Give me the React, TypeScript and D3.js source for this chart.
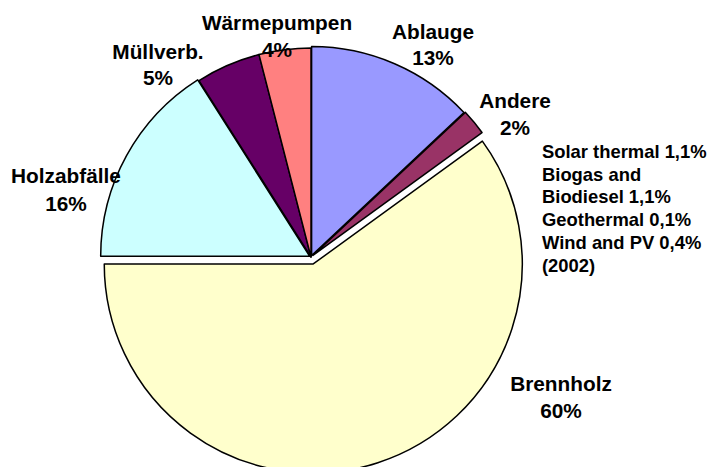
import { useEffect, useRef } from 'react';
import * as d3 from 'd3';

// Anteile erneuerbarer Wärme (%)
const categories = ['Ablauge', 'Andere', 'Brennholz', 'Holzabfälle', 'Müllverb.', 'Wärmepumpen'];
const shares = [13, 2, 60, 16, 5, 4];
const valueLabels = ['13%', '2%', '60%', '16%', '5%', '4%'];
const noteLines = [
  'Solar thermal 1,1%',
  'Biogas and',
  'Biodiesel 1,1%',
  'Geothermal 0,1%',
  'Wind and PV 0,4%',
  '(2002)'
];

const colors = ['#9999ff', '#993366', '#ffffcc', '#ccffff', '#660066', '#ff8080'];
// how far each slice is pulled out of the pie
const explode = [1.5, 2.5, 7.3, 1.5, 0, 0];
// label anchors (centre x, baseline of first line, line gap)
const labelPos = [
  [433, 39, 26],
  [515, 108, 27],
  [561, 391, 27],
  [66, 183, 28],
  [158, 59, 26],
  [277, 30, 27]
];

const App = () => {
  const svgRef = useRef(null);

  useEffect(() => {
    const svg = d3.select(svgRef.current);
    svg.selectAll('*').remove();

    const width = 708;
    const height = 467;
    const cx = 311;
    const cy = 257;
    const radius = 209;

    svg.attr('width', width).attr('height', height);

    const pie = d3.pie().sort(null).value(d => d);
    const arcs = pie(shares);
    const arc = d3.arc().innerRadius(0).outerRadius(radius);

    const g = svg.append('g').attr('transform', `translate(${cx},${cy})`);

    arcs.forEach((a, i) => {
      const mid = (a.startAngle + a.endAngle) / 2;
      const dx = Math.sin(mid) * explode[i];
      const dy = -Math.cos(mid) * explode[i];
      g.append('path')
        .attr('d', arc(a))
        .attr('transform', `translate(${dx},${dy})`)
        .attr('fill', colors[i])
        .attr('stroke', '#000')
        .attr('stroke-width', 1.5)
        .attr('stroke-linejoin', 'round');
    });

    const font = "'Liberation Sans', Arial, sans-serif";

    categories.forEach((name, i) => {
      const [x, y, gap] = labelPos[i];
      const t = svg.append('text')
        .attr('text-anchor', 'middle')
        .style('font-family', font)
        .style('font-weight', 'bold')
        .style('font-size', '20.8px')
        .attr('fill', '#000');
      t.append('tspan').attr('x', x).attr('y', y).text(name);
      t.append('tspan').attr('x', x).attr('y', y + gap).text(valueLabels[i]);
    });

    const note = svg.append('text')
      .style('font-family', font)
      .style('font-weight', 'bold')
      .style('font-size', '18.4px')
      .attr('fill', '#000');
    noteLines.forEach((line, i) => {
      note.append('tspan').attr('x', 542).attr('y', 158 + i * 22.7).text(line);
    });
  }, []);

  return (
    <svg
      ref={svgRef}
      style={{ position: 'absolute', left: 0, top: 0, background: '#fff' }}
    ></svg>
  );
};

export default App;
